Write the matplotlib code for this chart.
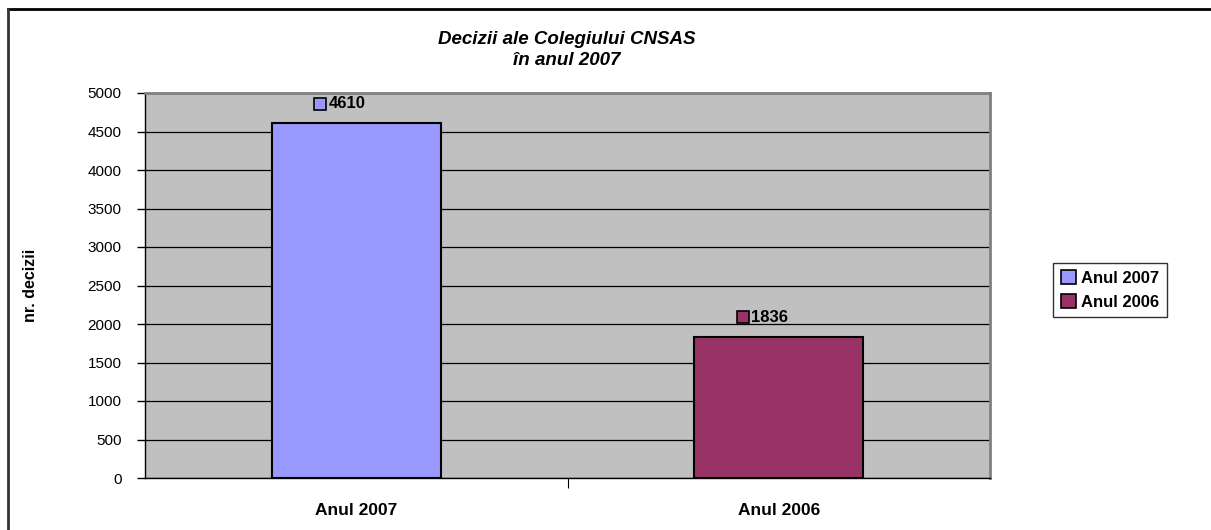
import matplotlib
matplotlib.use("Agg")
import matplotlib.pyplot as plt
from matplotlib.transforms import offset_copy
from matplotlib.patches import Patch
from matplotlib.lines import Line2D

categories = ["Anul 2007", "Anul 2006"]
values = [4610, 1836]
colors = ["#9999FF", "#993366"]
yticks = [0, 500, 1000, 1500, 2000, 2500, 3000, 3500, 4000, 4500, 5000]
title = "Decizii ale Colegiului CNSAS\nîn anul 2007"
ylabel = "nr. decizii"

plt.rcParams['font.family'] = ['Liberation Sans', 'DejaVu Sans']

W, H = 1211, 530
fig = plt.figure(figsize=(W / 100, H / 100), dpi=100)
ax = fig.add_axes([145 / W, 1 - 478 / H, (990 - 145) / W, (478 - 93) / H])
ax.set_facecolor("#C0C0C0")

x = list(range(len(categories)))
ax.bar(x, values, width=0.40, color=colors, edgecolor="black", linewidth=1.5, zorder=3)
ax.set_xlim(-0.5, len(categories) - 0.5)
ax.set_ylim(0, 5000)
ax.set_yticks(yticks)
ax.set_yticklabels([str(v) for v in yticks], fontsize=11)
ax.yaxis.grid(True, color="black", linewidth=0.9, zorder=1)
ax.set_axisbelow(True)
ax.tick_params(axis="y", direction="out", length=6, width=1, pad=11)

# category labels and boundary tick
ax.set_xticks([0.5])
ax.set_xticklabels([""])
ax.tick_params(axis="x", direction="out", length=7, width=0.8)
for i, c in enumerate(categories):
    ax.text(i, -0.065, c, transform=ax.get_xaxis_transform(), ha="center", va="top",
            fontsize=12.5, fontweight="bold")

for s in ["top", "right"]:
    ax.spines[s].set_color("#808080")
    ax.spines[s].set_linewidth(2)
ax.spines["left"].set_color("black")
ax.spines["left"].set_linewidth(1)
ax.spines["bottom"].set_color("black")
ax.spines["bottom"].set_linewidth(1)

# value labels with legend key
for i, (v, c) in enumerate(zip(values, colors)):
    tr_sq = offset_copy(ax.transData, fig=fig, x=-26, y=14, units="points")
    ax.plot([i], [v], marker="s", markersize=9, markerfacecolor=c,
            markeredgecolor="black", markeredgewidth=1.2, transform=tr_sq,
            clip_on=False, zorder=5, linestyle="none")
    tr_tx = offset_copy(ax.transData, fig=fig, x=-20, y=14, units="points")
    ax.text(i, v, str(v), transform=tr_tx, ha="left", va="center",
            fontsize=12, fontweight="bold", zorder=5)

ax.set_ylabel(ylabel, fontsize=11.5, fontweight="bold", labelpad=0)
ax.yaxis.set_label_coords((38 - 145) / (990 - 145), 0.5)

fig.text(567 / W, 1 - 50 / H, title, ha="center", va="center", fontsize=13.5,
         fontweight="bold", fontstyle="italic", linespacing=1.35)

handles = [Patch(facecolor=c, edgecolor="black", linewidth=1.2) for c in colors]
leg = fig.legend(handles, categories, loc="center", bbox_to_anchor=(1110 / W, 1 - 290 / H),
                 frameon=True, fancybox=False, edgecolor="black",
                 prop={"weight": "bold", "size": 12}, handlelength=0.9, handleheight=0.9,
                 handletextpad=0.3, borderpad=0.45, labelspacing=0.5, borderaxespad=0)
leg.get_frame().set_linewidth(1)

# outer frame lines (top and left)
fig.add_artist(Line2D([8 / W, 1], [1 - 9 / H, 1 - 9 / H], color="black", linewidth=2,
                      transform=fig.transFigure))
fig.add_artist(Line2D([8 / W, 8 / W], [0, 1 - 9 / H], color="#333333", linewidth=2,
                      transform=fig.transFigure))

fig.savefig("out.png", dpi=100)
